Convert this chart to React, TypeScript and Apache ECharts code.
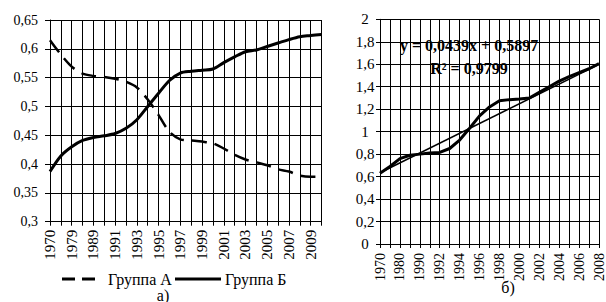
import React, { useEffect, useRef } from "react";
import * as echarts from "echarts";

const leftCategories = [
  "1970", "1975", "1979", "1985", "1989", "1990", "1991", "1992", "1993", "1994",
  "1995", "1996", "1997", "1998", "1999", "2000", "2001", "2002", "2003", "2004",
  "2005", "2006", "2007", "2008", "2009", "2010",
];
const groupA = [
  0.615, 0.59, 0.569, 0.557, 0.553, 0.551, 0.548, 0.543, 0.533, 0.512,
  0.485, 0.456, 0.443, 0.441, 0.439, 0.436, 0.427, 0.416, 0.408, 0.403,
  0.398, 0.391, 0.387, 0.38, 0.378, 0.378,
];
const groupB = [
  0.387, 0.414, 0.43, 0.441, 0.446, 0.449, 0.453, 0.462, 0.477, 0.5,
  0.523, 0.545, 0.558, 0.561, 0.563, 0.565, 0.576, 0.586, 0.595, 0.598,
  0.604, 0.61, 0.616, 0.621, 0.623, 0.625,
];

const rightCategories = [
  "1970", "1975", "1980", "1985", "1990", "1991", "1992", "1993", "1994", "1995",
  "1996", "1997", "1998", "1999", "2000", "2001", "2002", "2003", "2004", "2005",
  "2006", "2007", "2008",
];
const rightValues = [
  0.63, 0.69, 0.76, 0.79, 0.8, 0.81, 0.815, 0.85, 0.925, 1.03,
  1.14, 1.22, 1.275, 1.285, 1.29, 1.3, 1.35, 1.4, 1.45, 1.49,
  1.525, 1.56, 1.605,
];
const trendValues = [0.634, 1.599];
const trendEquation = "y = 0,0439x + 0,5897";
const trendR2 = "R² = 0,9799";
const legendNames = ["Группа А", "Группа Б"];

const FONT = "Liberation Serif, Times New Roman, serif";
const DASH = [15, 8];

const fmt = (v: number) =>
  Number(v.toFixed(2)).toString().replace(".", ",");

export default function App() {
  const ref = useRef<HTMLDivElement>(null);
  useEffect(() => {
    if (!ref.current) return;
    const chart = echarts.init(ref.current, null, { renderer: "svg" });
    const gridLine = { show: true, lineStyle: { color: "#000", width: 1 } };
    const txt = (text: string, x: number, y: number, align: string, size: number, weight: string) => ({
      type: "text",
      x,
      y,
      z: 100,
      style: {
        text,
        fontSize: size,
        fontWeight: weight,
        fontFamily: FONT,
        fill: "#000",
        align,
        verticalAlign: "middle",
      },
    });
    chart.setOption({
      animation: false,
      backgroundColor: "#fff",
      textStyle: { fontFamily: FONT, color: "#000" },
      grid: [
        { left: 50, top: 20, width: 271.5, height: 201.7 },
        { left: 380, top: 19.3, width: 225.3, height: 224.7 },
      ],
      xAxis: [
        {
          type: "category",
          gridIndex: 0,
          data: leftCategories,
          boundaryGap: false,
          axisLine: { lineStyle: { color: "#000", width: 1 } },
          axisTick: { show: true, interval: 0, length: 4, lineStyle: { color: "#000" } },
          axisLabel: {
            interval: 1,
            rotate: 90,
            margin: 8,
            fontSize: 15,
            fontFamily: FONT,
            color: "#000",
          },
          splitLine: { ...gridLine, interval: 0 },
        },
        {
          type: "category",
          gridIndex: 1,
          data: rightCategories,
          boundaryGap: false,
          axisLine: { lineStyle: { color: "#000", width: 1 } },
          axisTick: { show: true, interval: 0, length: 4, lineStyle: { color: "#000" } },
          axisLabel: {
            interval: 1,
            rotate: 90,
            margin: 9,
            fontSize: 14,
            fontFamily: FONT,
            color: "#000",
          },
          splitLine: { ...gridLine, interval: 0 },
        },
      ],
      yAxis: [
        {
          type: "value",
          gridIndex: 0,
          min: 0.3,
          max: 0.65,
          interval: 0.05,
          axisLine: { show: true, lineStyle: { color: "#000", width: 1 } },
          axisTick: { show: true, length: 5, lineStyle: { color: "#000" } },
          axisLabel: {
            formatter: fmt,
            margin: 12,
            fontSize: 14,
            fontFamily: FONT,
            color: "#000",
          },
          splitLine: gridLine,
        },
        {
          type: "value",
          gridIndex: 1,
          min: 0,
          max: 2,
          interval: 0.2,
          axisLine: { show: true, lineStyle: { color: "#000", width: 1 } },
          axisTick: { show: true, length: 4, lineStyle: { color: "#000" } },
          axisLabel: {
            formatter: fmt,
            margin: 15,
            align: "center",
            fontSize: 15,
            fontFamily: FONT,
            color: "#000",
          },
          splitLine: gridLine,
        },
      ],
      series: [
        {
          name: legendNames[0],
          type: "line",
          xAxisIndex: 0,
          yAxisIndex: 0,
          data: groupA,
          symbol: "none",
          smooth: 0.3,
          lineStyle: { color: "#000", width: 2.5, type: DASH },
        },
        {
          name: legendNames[1],
          type: "line",
          xAxisIndex: 0,
          yAxisIndex: 0,
          data: groupB,
          symbol: "none",
          smooth: 0.3,
          lineStyle: { color: "#000", width: 3 },
        },
        {
          name: "data",
          type: "line",
          xAxisIndex: 1,
          yAxisIndex: 1,
          data: rightValues,
          symbol: "none",
          lineStyle: { color: "#000", width: 3 },
        },
        {
          name: "trend",
          type: "line",
          xAxisIndex: 1,
          yAxisIndex: 1,
          data: [
            [0, trendValues[0]],
            [rightCategories.length - 1, trendValues[1]],
          ],
          symbol: "none",
          lineStyle: { color: "#000", width: 1.5 },
        },
      ],
      graphic: [
        txt(trendEquation, 469, 45, "center", 16, "bold"),
        txt(trendR2, 469, 68, "center", 16, "bold"),
        {
          type: "line",
          shape: { x1: 62, y1: 279, x2: 101, y2: 279 },
          style: { stroke: "#000", lineWidth: 3, lineDash: [13, 7] },
        },
        txt(legendNames[0], 108, 279, "left", 16, "normal"),
        {
          type: "line",
          shape: { x1: 175, y1: 279, x2: 221, y2: 279 },
          style: { stroke: "#000", lineWidth: 3 },
        },
        txt(legendNames[1], 225, 279, "left", 16, "normal"),
        txt("а)", 163, 295, "center", 16, "normal"),
        txt("б)", 508, 287, "center", 16, "normal"),
      ],
    });
    return () => chart.dispose();
  }, []);
  return <div ref={ref} style={{ width: 606, height: 302, position: "absolute", left: 0, top: 0 }} />;
}
